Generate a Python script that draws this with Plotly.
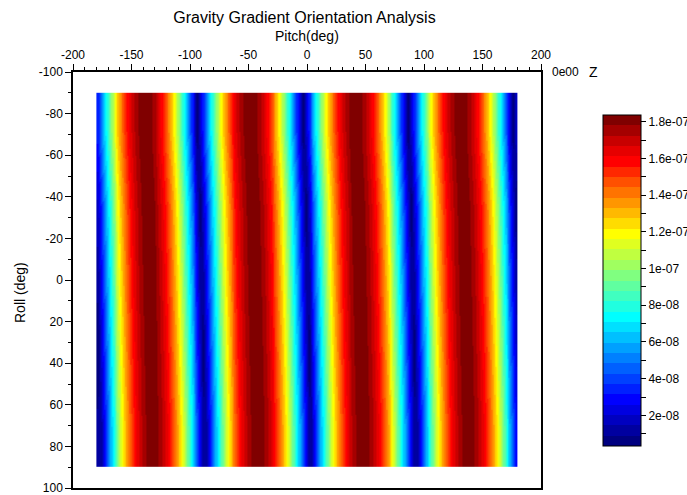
import plotly.graph_objects as go

# ---------------- data ----------------
UNIT = 1e-9  # z values below are written in units of 1e-9

# cell edges of the gridded field
pitch_edges = [-180, -177.5, -175, -172.5, -170, -167.5, -165, -162.5, -160, -157.5,
               -155, -152.5, -150, -147.5, -145, -142.5, -140, -137.5, -135, -132.5,
               -130, -127.5, -125, -122.5, -120, -117.5, -115, -112.5, -110, -107.5,
               -105, -102.5, -100, -97.5, -95, -92.5, -90, -87.5, -85, -82.5,
               -80, -77.5, -75, -72.5, -70, -67.5, -65, -62.5, -60, -57.5,
               -55, -52.5, -50, -47.5, -45, -42.5, -40, -37.5, -35, -32.5,
               -30, -27.5, -25, -22.5, -20, -17.5, -15, -12.5, -10, -7.5,
               -5, -2.5, 0, 2.5, 5, 7.5, 10, 12.5, 15, 17.5,
               20, 22.5, 25, 27.5, 30, 32.5, 35, 37.5, 40, 42.5,
               45, 47.5, 50, 52.5, 55, 57.5, 60, 62.5, 65, 67.5,
               70, 72.5, 75, 77.5, 80, 82.5, 85, 87.5, 90, 92.5,
               95, 97.5, 100, 102.5, 105, 107.5, 110, 112.5, 115, 117.5,
               120, 122.5, 125, 127.5, 130, 132.5, 135, 137.5, 140, 142.5,
               145, 147.5, 150, 152.5, 155, 157.5, 160, 162.5, 165, 167.5,
               170, 172.5, 175, 177.5, 180]

roll_edges = [-90, -54, -18, 18, 54, 90]

# one row of cell values per roll band (top to bottom)
z_roll_m72 = [
    34, 50, 65, 79, 93, 106, 119, 130, 140, 149, 157, 164, 170, 175, 179, 182, 183,
    182, 179, 175, 170, 164, 157, 149, 140, 130, 119, 106, 93, 79, 65, 50, 34, 19, 4, 19,
    34, 50, 65, 79, 93, 106, 119, 130, 140, 149, 157, 164, 170, 175, 179, 182, 183,
    182, 179, 175, 170, 164, 157, 149, 140, 130, 119, 106, 93, 79, 65, 50, 34, 19, 4, 19,
    34, 50, 65, 79, 93, 106, 119, 130, 140, 149, 157, 164, 170, 175, 179, 182, 183,
    182, 179, 175, 170, 164, 157, 149, 140, 130, 119, 106, 93, 79, 65, 50, 34, 19, 4, 19,
    34, 50, 65, 79, 93, 106, 119, 130, 140, 149, 157, 164, 170, 175, 179, 182, 183,
    182, 179, 175, 170, 164, 157, 149, 140, 130, 119, 106, 93, 79, 65, 50, 34, 19, 4, 19]

z_roll_m36 = [
    19, 34, 50, 65, 79, 93, 106, 119, 130, 140, 149, 157, 164, 170, 175, 179, 182, 183,
    182, 179, 175, 170, 164, 157, 149, 140, 130, 119, 106, 93, 79, 65, 50, 34, 19, 4,
    19, 34, 50, 65, 79, 93, 106, 119, 130, 140, 149, 157, 164, 170, 175, 179, 182, 183,
    182, 179, 175, 170, 164, 157, 149, 140, 130, 119, 106, 93, 79, 65, 50, 34, 19, 4,
    19, 34, 50, 65, 79, 93, 106, 119, 130, 140, 149, 157, 164, 170, 175, 179, 182, 183,
    182, 179, 175, 170, 164, 157, 149, 140, 130, 119, 106, 93, 79, 65, 50, 34, 19, 4,
    19, 34, 50, 65, 79, 93, 106, 119, 130, 140, 149, 157, 164, 170, 175, 179, 182, 183,
    182, 179, 175, 170, 164, 157, 149, 140, 130, 119, 106, 93, 79, 65, 50, 34, 19, 4]

z_roll_0 = [
    11, 27, 42, 58, 72, 86, 100, 113, 125, 135, 145, 153, 161, 167, 173, 177, 181, 183,
    183, 181, 177, 173, 167, 161, 153, 145, 135, 125, 113, 100, 86, 72, 58, 42, 27, 11,
    11, 27, 42, 58, 72, 86, 100, 113, 125, 135, 145, 153, 161, 167, 173, 177, 181, 183,
    183, 181, 177, 173, 167, 161, 153, 145, 135, 125, 113, 100, 86, 72, 58, 42, 27, 11,
    11, 27, 42, 58, 72, 86, 100, 113, 125, 135, 145, 153, 161, 167, 173, 177, 181, 183,
    183, 181, 177, 173, 167, 161, 153, 145, 135, 125, 113, 100, 86, 72, 58, 42, 27, 11,
    11, 27, 42, 58, 72, 86, 100, 113, 125, 135, 145, 153, 161, 167, 173, 177, 181, 183,
    183, 181, 177, 173, 167, 161, 153, 145, 135, 125, 113, 100, 86, 72, 58, 42, 27, 11]

z_roll_p36 = [
    4, 19, 34, 50, 65, 79, 93, 106, 119, 130, 140, 149, 157, 164, 170, 175, 179, 182, 183,
    182, 179, 175, 170, 164, 157, 149, 140, 130, 119, 106, 93, 79, 65, 50, 34, 19,
    4, 19, 34, 50, 65, 79, 93, 106, 119, 130, 140, 149, 157, 164, 170, 175, 179, 182, 183,
    182, 179, 175, 170, 164, 157, 149, 140, 130, 119, 106, 93, 79, 65, 50, 34, 19,
    4, 19, 34, 50, 65, 79, 93, 106, 119, 130, 140, 149, 157, 164, 170, 175, 179, 182, 183,
    182, 179, 175, 170, 164, 157, 149, 140, 130, 119, 106, 93, 79, 65, 50, 34, 19,
    4, 19, 34, 50, 65, 79, 93, 106, 119, 130, 140, 149, 157, 164, 170, 175, 179, 182, 183,
    182, 179, 175, 170, 164, 157, 149, 140, 130, 119, 106, 93, 79, 65, 50, 34, 19]

z_roll_p72 = [
    11, 11, 27, 42, 58, 72, 86, 100, 113, 125, 135, 145, 153, 161, 167, 173, 177, 181, 183,
    183, 181, 177, 173, 167, 161, 153, 145, 135, 125, 113, 100, 86, 72, 58, 42, 27,
    11, 11, 27, 42, 58, 72, 86, 100, 113, 125, 135, 145, 153, 161, 167, 173, 177, 181, 183,
    183, 181, 177, 173, 167, 161, 153, 145, 135, 125, 113, 100, 86, 72, 58, 42, 27,
    11, 11, 27, 42, 58, 72, 86, 100, 113, 125, 135, 145, 153, 161, 167, 173, 177, 181, 183,
    183, 181, 177, 173, 167, 161, 153, 145, 135, 125, 113, 100, 86, 72, 58, 42, 27,
    11, 11, 27, 42, 58, 72, 86, 100, 113, 125, 135, 145, 153, 161, 167, 173, 177, 181, 183,
    183, 181, 177, 173, 167, 161, 153, 145, 135, 125, 113, 100, 86, 72, 58, 42, 27]

z_min = 3.3e-09
z_max = 1.837e-07
n_bands = 32

# band colours, bottom (lowest) to top (highest)
band_colors = [
    "#000080", "#0000a0", "#0000c0", "#0000e0", "#0000ff", "#0020ff", "#0040ff", "#0060ff",
    "#0080ff", "#00a0ff", "#00c0ff", "#00e0ff", "#00ffff", "#20ffe0", "#40ffc0", "#60ffa0",
    "#80ff80", "#a0ff60", "#c0ff40", "#e0ff20", "#ffff00", "#ffdc00", "#ffb900", "#ff9600",
    "#ff7300", "#ff5000", "#ff2800", "#ff0000", "#e60000", "#c80000", "#a50000", "#800000",
]

cb_major_vals = [2e-08, 4e-08, 6e-08, 8e-08, 1e-07, 1.2e-07, 1.4e-07, 1.6e-07, 1.8e-07]
cb_major_text = ["2e-08", "4e-08", "6e-08", "8e-08", "1e-07", "1.2e-07", "1.4e-07", "1.6e-07", "1.8e-07"]
cb_minor_vals = [1e-08, 3e-08, 5e-08, 7e-08, 9e-08, 1.1e-07, 1.3e-07, 1.5e-07, 1.7e-07]

x_tick_vals = [-200, -150, -100, -50, 0, 50, 100, 150, 200]
x_tick_text = ["-200", "-150", "-100", "-50", "0", "50", "100", "150", "200"]
x_minor_vals = [-190, -180, -170, -160, -140, -130, -120, -110, -90, -80, -70, -60,
                -40, -30, -20, -10, 10, 20, 30, 40, 60, 70, 80, 90, 110, 120, 130, 140,
                160, 170, 180, 190]
y_tick_vals = [-100, -80, -60, -40, -20, 0, 20, 40, 60, 80, 100]
y_tick_text = ["-100", "-80", "-60", "-40", "-20", "0", "20", "40", "60", "80", "100"]
y_minor_vals = [-90, -70, -50, -30, -10, 10, 30, 50, 70, 90]

# ---------------- figure ----------------
z = [[v * UNIT for v in row]
     for row in (z_roll_m72, z_roll_m36, z_roll_0, z_roll_p36, z_roll_p72)]

step_scale = []
for j, c in enumerate(band_colors):
    step_scale.append([j / n_bands, c])
    step_scale.append([(j + 1) / n_bands, c])

FONT = "Liberation Sans, Arial, sans-serif"

fig = go.Figure()
fig.add_trace(go.Heatmap(
    x=pitch_edges, y=roll_edges, z=z,
    zsmooth="best",
    colorscale=step_scale, zmin=z_min, zmax=z_max,
    hoverinfo="skip",
    colorbar=dict(
        thickness=38, thicknessmode="pixels",
        len=331, lenmode="pixels",
        x=(603 - 73) / 468, xanchor="left", xpad=0,
        y=(488 - 280.5) / 416, yanchor="middle", ypad=0,
        outlinewidth=1, outlinecolor="black",
        ticks="outside", ticklen=5, tickwidth=1, tickcolor="black",
        tickmode="array",
        tickvals=cb_major_vals + cb_minor_vals,
        ticktext=cb_major_text + [""] * len(cb_minor_vals),
        tickfont=dict(family=FONT, size=12, color="black"),
    ),
))

axis_common = dict(
    showgrid=False, zeroline=False, showline=True, linecolor="black", linewidth=1.5,
    mirror=True, ticks="outside", ticklen=6, tickwidth=1, tickcolor="black",
    tickfont=dict(family=FONT, size=12, color="black"), tickmode="array",
    ticklabeloverflow="allow",
)

fig.update_layout(
    width=687, height=495,
    margin=dict(l=73, r=146, t=72, b=7, pad=0, autoexpand=False),
    paper_bgcolor="white", plot_bgcolor="white",
    font=dict(family=FONT, size=12, color="black"),
    showlegend=False,
    title=dict(text="Gravity Gradient Orientation Analysis",
               x=304.5 / 687, xanchor="center", y=1 - 17 / 495, yanchor="middle",
               font=dict(family=FONT, size=16, color="black")),
    xaxis=dict(axis_common, side="top", range=[-200, 200],
               tickvals=x_tick_vals, ticktext=x_tick_text,
               minor=dict(tickmode="array", tickvals=x_minor_vals, ticks="outside",
                          ticklen=3, tickcolor="black", showgrid=False)),
    yaxis=dict(axis_common, range=[100, -100],
               tickvals=y_tick_vals, ticktext=y_tick_text,
               minor=dict(tickmode="array", tickvals=y_minor_vals, ticks="outside",
                          ticklen=3, tickcolor="black", showgrid=False)),
    shapes=[dict(type="line", xref="x", yref="y", xsizemode="pixel", xanchor=200,
                 x0=0, x1=7, y0=-100, y1=-100, line=dict(color="black", width=1.5))],
    annotations=[
        dict(text="Pitch(deg)", xref="x", x=0, yref="paper", y=1, yshift=36,
             xanchor="center", yanchor="middle", showarrow=False,
             font=dict(family=FONT, size=14, color="black")),
        dict(text="Roll (deg)", xref="paper", x=(20 - 73) / 468, yref="paper",
             y=(488 - 293) / 416, textangle=-90, xanchor="center", yanchor="middle",
             showarrow=False, font=dict(family=FONT, size=14, color="black")),
        dict(text="0e00", xref="x", x=200, yref="y", y=-100, xshift=9,
             xanchor="left", yanchor="middle", showarrow=False,
             font=dict(family=FONT, size=12, color="black")),
        dict(text="Z", xref="x", x=200, yref="y", y=-100, xshift=46,
             xanchor="left", yanchor="middle", showarrow=False,
             font=dict(family=FONT, size=14, color="black")),
    ],
)

fig.write_html("out.html")
